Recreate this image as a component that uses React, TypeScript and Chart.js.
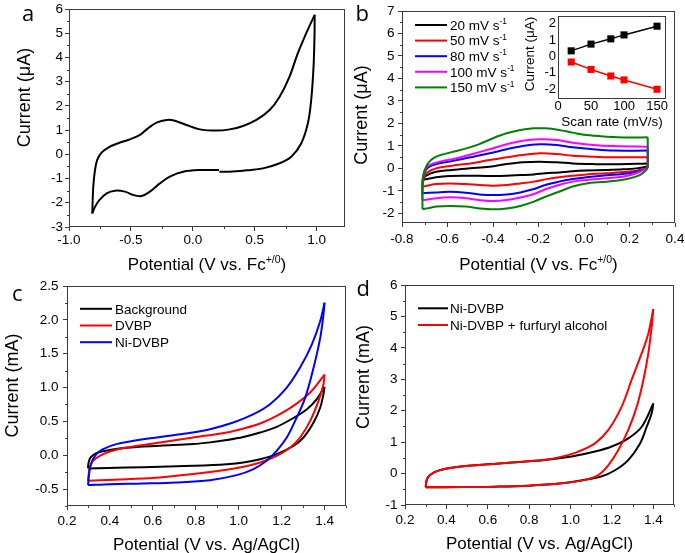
import React, { useEffect, useRef } from 'react';
import { Chart, registerables } from 'chart.js';

Chart.register(...registerables);

type Pt = [number, number];
type Part = { t: string; sup?: boolean };

const FONT = "'Liberation Sans', Arial, Helvetica, sans-serif";
const LETTER_FONT = "'Open Sans', 'Liberation Sans', sans-serif";
const FRAME = '#3a3a3a';

// ---------------- data: panel a (single CV, uA vs V vs Fc+/0) ----------------
const aScanOut: Pt[] = [
  [0.215, -0.72], [0.298, -0.72], [0.433, -0.66], [0.567, -0.58], [0.702, -0.37], [0.796, -0.1],
  [0.877, 0.46], [0.93, 1.28], [0.957, 2.25], [0.976, 3.63], [0.984, 5.0], [0.985, 5.76],
];
const aScanBack: Pt[] = [
  [0.985, 5.76], [0.917, 5.0], [0.849, 4.18], [0.782, 3.21], [0.702, 2.38], [0.621, 1.83],
  [0.514, 1.42], [0.406, 1.17], [0.298, 1.03], [0.191, 0.98], [0.056, 1.03], [-0.051, 1.21],
  [-0.145, 1.39], [-0.212, 1.42], [-0.293, 1.31], [-0.36, 1.08], [-0.427, 0.8], [-0.508, 0.62],
  [-0.602, 0.46], [-0.683, 0.28], [-0.737, 0.07], [-0.772, -0.23], [-0.79, -0.65], [-0.804, -1.34],
  [-0.812, -2.44],
];
const aScanReturn: Pt[] = [
  [-0.812, -2.44], [-0.79, -2.17], [-0.755, -1.89], [-0.696, -1.61], [-0.629, -1.5], [-0.548, -1.54],
  [-0.481, -1.68], [-0.414, -1.72], [-0.347, -1.54], [-0.266, -1.2], [-0.185, -0.92], [-0.078, -0.72],
  [0.056, -0.65], [0.212, -0.65],
];

// ---------------- data: panel b (scan-rate series) ----------------
const bRates = [20, 50, 80, 100, 150];
const bFwd20: Pt[] = [
  [-0.71, -0.52], [-0.708, -0.45], [-0.69, -0.3], [-0.65, -0.15], [-0.58, -0.07], [-0.5, 0.0],
  [-0.415, 0.07], [-0.34, 0.19], [-0.27, 0.27], [-0.195, 0.3], [-0.12, 0.27], [-0.05, 0.22],
  [0.04, 0.19], [0.13, 0.18], [0.28, 0.22],
];
const bRev20: Pt[] = [
  [0.28, 0.22], [0.28, 0.1], [0.274, 0.07], [0.23, 0.0], [0.17, -0.04], [0.1, -0.07], [0.01, -0.1],
  [-0.05, -0.13], [-0.11, -0.18], [-0.17, -0.22], [-0.22, -0.27], [-0.28, -0.3], [-0.34, -0.33],
  [-0.4, -0.34], [-0.46, -0.33], [-0.52, -0.33], [-0.59, -0.34], [-0.65, -0.4], [-0.71, -0.52],
];
const bFwd50: Pt[] = [
  [-0.71, -0.81], [-0.708, -0.55], [-0.69, -0.2], [-0.65, 0.0], [-0.58, 0.12], [-0.5, 0.22],
  [-0.415, 0.37], [-0.34, 0.49], [-0.27, 0.59], [-0.195, 0.67], [-0.12, 0.64], [-0.05, 0.56],
  [0.04, 0.52], [0.13, 0.49], [0.28, 0.5],
];
const bRev50: Pt[] = [
  [0.28, 0.5], [0.28, 0.1], [0.274, 0.0], [0.23, -0.1], [0.17, -0.16], [0.1, -0.22], [0.01, -0.27],
  [-0.05, -0.33], [-0.11, -0.4], [-0.17, -0.49], [-0.22, -0.59], [-0.28, -0.67], [-0.34, -0.74],
  [-0.4, -0.77], [-0.46, -0.74], [-0.52, -0.7], [-0.59, -0.67], [-0.65, -0.7], [-0.71, -0.81],
];
const bFwd80: Pt[] = [
  [-0.71, -1.11], [-0.708, -0.5], [-0.69, 0.0], [-0.65, 0.19], [-0.58, 0.33], [-0.5, 0.49],
  [-0.415, 0.67], [-0.34, 0.85], [-0.27, 1.0], [-0.195, 1.07], [-0.12, 1.04], [-0.05, 0.94],
  [0.04, 0.85], [0.13, 0.79], [0.28, 0.79],
];
const bRev80: Pt[] = [
  [0.28, 0.79], [0.28, 0.1], [0.274, 0.0], [0.23, -0.15], [0.17, -0.25], [0.1, -0.31], [0.01, -0.4],
  [-0.05, -0.47], [-0.11, -0.59], [-0.17, -0.74], [-0.22, -0.92], [-0.28, -1.07], [-0.34, -1.16],
  [-0.4, -1.19], [-0.46, -1.16], [-0.52, -1.08], [-0.59, -1.04], [-0.65, -1.07], [-0.71, -1.11],
];
const bFwd100: Pt[] = [
  [-0.71, -1.41], [-0.708, -0.5], [-0.69, 0.07], [-0.634, 0.3], [-0.56, 0.45], [-0.49, 0.64],
  [-0.415, 0.85], [-0.34, 1.07], [-0.27, 1.23], [-0.195, 1.29], [-0.12, 1.26], [-0.05, 1.14],
  [0.04, 1.04], [0.13, 0.99], [0.28, 0.96],
];
const bRev100: Pt[] = [
  [0.28, 0.96], [0.28, 0.1], [0.274, 0.0], [0.23, -0.22], [0.17, -0.37], [0.1, -0.44], [0.01, -0.52],
  [-0.05, -0.59], [-0.11, -0.74], [-0.17, -0.93], [-0.22, -1.14], [-0.28, -1.3], [-0.34, -1.41],
  [-0.4, -1.45], [-0.46, -1.41], [-0.52, -1.33], [-0.59, -1.29], [-0.65, -1.33], [-0.71, -1.41],
];
const bFwd150: Pt[] = [
  [-0.71, -1.82], [-0.708, -0.4], [-0.686, 0.22], [-0.649, 0.52], [-0.59, 0.7], [-0.517, 0.89],
  [-0.46, 1.08], [-0.4, 1.34], [-0.34, 1.56], [-0.28, 1.71], [-0.22, 1.78], [-0.17, 1.78],
  [-0.11, 1.71], [-0.05, 1.59], [0.01, 1.48], [0.1, 1.41], [0.19, 1.37], [0.28, 1.38],
];
const bRev150: Pt[] = [
  [0.28, 1.38], [0.28, 0.1], [0.274, -0.07], [0.245, -0.3], [0.19, -0.47], [0.1, -0.59], [0.01, -0.67],
  [-0.05, -0.81], [-0.11, -1.04], [-0.17, -1.26], [-0.22, -1.48], [-0.28, -1.67], [-0.34, -1.78],
  [-0.4, -1.82], [-0.46, -1.78], [-0.52, -1.7], [-0.59, -1.67], [-0.65, -1.7], [-0.69, -1.78], [-0.71, -1.82],
];

// ---------------- data: inset of b (peak current vs scan rate) ----------------
const insetRates = [20, 50, 80, 100, 150];
const insetAnodic = [0.34, 0.75, 1.07, 1.31, 1.84];
const insetCathodic = [-0.34, -0.79, -1.19, -1.43, -2.0];

// ---------------- data: panel c ----------------
const cLabels = ['Background', 'DVBP', 'Ni-DVBP'];
const cBackgroundFwd: Pt[] = [
  [0.298, -0.195], [0.3, -0.12], [0.31, -0.03], [0.337, 0.03], [0.368, 0.06], [0.477, 0.11],
  [0.633, 0.14], [0.788, 0.165], [0.866, 0.19], [0.944, 0.225], [1.022, 0.27], [1.1, 0.335],
  [1.177, 0.42], [1.255, 0.55], [1.318, 0.68], [1.364, 0.83], [1.4, 1.01],
];
const cBackgroundRev: Pt[] = [
  [1.4, 1.01], [1.395, 0.9], [1.38, 0.705], [1.349, 0.483], [1.302, 0.262], [1.255, 0.139],
  [1.177, 0.016], [1.1, -0.058], [1.022, -0.107], [0.944, -0.132], [0.788, -0.156], [0.633, -0.171],
  [0.477, -0.181], [0.298, -0.195],
];
const cDvbpFwd: Pt[] = [
  [0.298, -0.378], [0.306, -0.18], [0.321, -0.082], [0.353, -0.009], [0.4, 0.055], [0.477, 0.114],
  [0.633, 0.188], [0.788, 0.262], [0.944, 0.336], [1.022, 0.395], [1.1, 0.469], [1.177, 0.582],
  [1.255, 0.729], [1.333, 0.926], [1.4, 1.19],
];
const cDvbpRev: Pt[] = [
  [1.4, 1.19], [1.395, 1.05], [1.372, 0.803], [1.333, 0.508], [1.286, 0.262], [1.24, 0.114],
  [1.177, -0.009], [1.1, -0.107], [1.022, -0.171], [0.944, -0.215], [0.788, -0.279], [0.633, -0.328],
  [0.477, -0.353], [0.298, -0.378],
];
const cNiFwd: Pt[] = [
  [0.298, -0.441], [0.303, -0.28], [0.314, -0.107], [0.337, 0.016], [0.368, 0.09], [0.43, 0.164],
  [0.555, 0.237], [0.71, 0.301], [0.866, 0.385], [0.975, 0.483], [1.069, 0.606], [1.146, 0.754],
  [1.224, 1.0], [1.286, 1.295], [1.341, 1.639], [1.38, 1.984], [1.4, 2.254],
];
const cNiRev: Pt[] = [
  [1.4, 2.254], [1.395, 2.082], [1.38, 1.738], [1.349, 1.295], [1.31, 0.852], [1.263, 0.508],
  [1.224, 0.262], [1.177, 0.065], [1.13, -0.082], [1.069, -0.205], [0.991, -0.294], [0.866, -0.368],
  [0.71, -0.402], [0.555, -0.417], [0.4, -0.427], [0.298, -0.441],
];

// ---------------- data: panel d ----------------
const dLabels = ['Ni-DVBP', 'Ni-DVBP + furfuryl alcohol'];
const dNiFwd: Pt[] = [
  [0.3, -0.438], [0.305, -0.2], [0.321, -0.045], [0.361, 0.093], [0.442, 0.2], [0.554, 0.273],
  [0.715, 0.35], [0.877, 0.43], [1.005, 0.54], [1.118, 0.7], [1.199, 0.86], [1.279, 1.12],
  [1.344, 1.49], [1.4, 2.235],
];
const dNiRev: Pt[] = [
  [1.4, 2.235], [1.392, 1.917], [1.368, 1.49], [1.336, 0.96], [1.279, 0.43], [1.215, 0.106],
  [1.15, -0.09], [1.07, -0.2], [0.957, -0.31], [0.796, -0.385], [0.635, -0.416], [0.474, -0.427],
  [0.3, -0.438],
];
const dFaFwd: Pt[] = [
  [0.3, -0.438], [0.305, -0.2], [0.321, -0.045], [0.361, 0.093], [0.442, 0.2], [0.554, 0.273],
  [0.715, 0.35], [0.877, 0.44], [0.957, 0.54], [1.038, 0.7], [1.118, 0.96], [1.183, 1.39],
  [1.247, 2.13], [1.295, 2.98], [1.344, 3.83], [1.376, 4.46], [1.4, 5.23],
];
const dFaRev: Pt[] = [
  [1.4, 5.23], [1.392, 4.67], [1.376, 3.83], [1.352, 2.98], [1.32, 2.13], [1.279, 1.39],
  [1.231, 0.75], [1.183, 0.27], [1.134, -0.05], [1.07, -0.2], [0.957, -0.31], [0.796, -0.385],
  [0.635, -0.416], [0.474, -0.427], [0.3, -0.438],
];

// ---------------- layout / style specs ----------------
type Box = { l: number; t: number; r: number; b: number };
interface AxisSpec { min: number; max: number; step: number; minor?: number; dec: number; pad: number }
interface SeriesSpec { label: Part[]; color: string; branches: Pt[][] }
interface PanelSpec {
  area: Box;
  margin: Box;
  x: AxisSpec;
  y: AxisSpec;
  series: SeriesSpec[];
  lineWidth: number;
  tension: number;
  markers?: boolean;
  tickFont: number;
  titleFont: number;
  yTitleFont: number;
  tickLen: number;
  minorLen: number;
  xTitle: Part[];
  xTitleBase: number;
  yTitle: string;
  yTitleCenter: [number, number];
  letter?: { t: string; x: number; y: number };
  legend?: { x: number; y: number; len: number; gap: number; row: number; font: number };
}

const bColors = ['#000000', '#ff0000', '#0000ff', '#ff00ff', '#008000'];
const bBranches: Pt[][][] = [
  [bFwd20, bRev20], [bFwd50, bRev50], [bFwd80, bRev80], [bFwd100, bRev100], [bFwd150, bRev150],
];
const fcTitle: Part[] = [{ t: 'Potential (V vs. Fc' }, { t: '+/0', sup: true }, { t: ')' }];
const agTitle: Part[] = [{ t: 'Potential (V vs. Ag/AgCl)' }];

const MAIN_MARGIN: Box = { l: 72, t: 20, r: 25, b: 56 };
const TICK = 13.5;
const TITLE = 17;
const YTITLE = 18;

const PANELS: PanelSpec[] = [
  {
    area: { l: 69, t: 9, r: 345, b: 227 },
    margin: MAIN_MARGIN,
    x: { min: -1, max: 1.23, step: 0.5, minor: 0.25, dec: 1, pad: 2.5 },
    y: { min: -3, max: 6, step: 1, minor: 0.5, dec: 0, pad: 2 },
    series: [{ label: [{ t: '' }], color: '#000000', branches: [aScanOut, aScanBack, aScanReturn] }],
    lineWidth: 2, tension: 0.35, tickFont: TICK, titleFont: TITLE, yTitleFont: YTITLE, tickLen: 4, minorLen: 2.5,
    xTitle: fcTitle, xTitleBase: 270,
    yTitle: 'Current (\u03bcA)', yTitleCenter: [25.5, 97.5],
    letter: { t: 'a', x: 22, y: 21 },
  },
  {
    area: { l: 402, t: 11, r: 675, b: 223 },
    margin: MAIN_MARGIN,
    x: { min: -0.8, max: 0.4, step: 0.2, minor: 0.1, dec: 1, pad: 6 },
    y: { min: -2.43, max: 7, step: 1, minor: 0.5, dec: 0, pad: 3.5 },
    series: bRates.map((r, i) => ({
      label: [{ t: `${r} mV s` }, { t: '-1', sup: true }],
      color: bColors[i],
      branches: bBranches[i],
    })),
    lineWidth: 2, tension: 0.35, tickFont: TICK, titleFont: TITLE, yTitleFont: YTITLE, tickLen: 4, minorLen: 2.5,
    xTitle: fcTitle, xTitleBase: 270,
    yTitle: 'Current (\u03bcA)', yTitleCenter: [362.5, 115],
    letter: { t: 'b', x: 355.5, y: 20.7 },
    legend: { x: 415, y: 25, len: 32, gap: 3, row: 15.6, font: 13.5 },
  },
  {
    area: { l: 558, t: 16, r: 666, b: 99 },
    margin: { l: 40, t: 12, r: 14, b: 34 },
    x: { min: 0, max: 163.6, step: 50, dec: 0, pad: 1 },
    y: { min: -2.59, max: 2.46, step: 1, dec: 0, pad: 2 },
    series: [
      { label: [{ t: 'anodic' }], color: '#000000', branches: [insetRates.map((r, i) => [r, insetAnodic[i]] as Pt)] },
      { label: [{ t: 'cathodic' }], color: '#ff0000', branches: [insetRates.map((r, i) => [r, insetCathodic[i]] as Pt)] },
    ],
    lineWidth: 1.5, tension: 0, markers: true, tickFont: 13, titleFont: 13.5, yTitleFont: 13.5, tickLen: 0, minorLen: 0,
    xTitle: [{ t: 'Scan rate (mV/s)' }], xTitleBase: 125.7,
    yTitle: 'Current (\u03bcA)', yTitleCenter: [530, 54],
  },
  {
    area: { l: 67, t: 285.5, r: 346, b: 506 },
    margin: MAIN_MARGIN,
    x: { min: 0.2, max: 1.5, step: 0.2, minor: 0.1, dec: 1, pad: 4.5 },
    y: { min: -0.75, max: 2.5, step: 0.5, minor: 0.25, dec: 1, pad: 4.5 },
    series: [
      { label: [{ t: cLabels[0] }], color: '#000000', branches: [cBackgroundFwd, cBackgroundRev] },
      { label: [{ t: cLabels[1] }], color: '#ff0000', branches: [cDvbpFwd, cDvbpRev] },
      { label: [{ t: cLabels[2] }], color: '#0000ff', branches: [cNiFwd, cNiRev] },
    ],
    lineWidth: 2, tension: 0.35, tickFont: TICK, titleFont: TITLE, yTitleFont: YTITLE, tickLen: 4, minorLen: 2.5,
    xTitle: agTitle, xTitleBase: 549,
    yTitle: 'Current (mA)', yTitleCenter: [13.5, 385],
    letter: { t: 'c', x: 12, y: 300 },
    legend: { x: 80, y: 308.3, len: 32, gap: 3, row: 16.7, font: 13.5 },
  },
  {
    area: { l: 405, t: 285, r: 674, b: 505 },
    margin: MAIN_MARGIN,
    x: { min: 0.2, max: 1.5, step: 0.2, minor: 0.1, dec: 1, pad: 4.5 },
    y: { min: -1, max: 6, step: 1, minor: 0.5, dec: 0, pad: 3.5 },
    series: [
      { label: [{ t: dLabels[0] }], color: '#000000', branches: [dNiFwd, dNiRev] },
      { label: [{ t: dLabels[1] }], color: '#ff0000', branches: [dFaFwd, dFaRev] },
    ],
    lineWidth: 2, tension: 0.35, tickFont: TICK, titleFont: TITLE, yTitleFont: YTITLE, tickLen: 4, minorLen: 2.5,
    xTitle: agTitle, xTitleBase: 549,
    yTitle: 'Current (mA)', yTitleCenter: [364, 377],
    letter: { t: 'd', x: 356.5, y: 296 },
    legend: { x: 418, y: 308.3, len: 30, gap: 2, row: 16.7, font: 13.5 },
  },
];

// ---------------- drawing helpers ----------------
function drawParts(ctx: CanvasRenderingContext2D, parts: Part[], x: number, baseY: number, size: number, center: boolean) {
  const supSize = size * 0.62;
  const widths = parts.map((p) => {
    ctx.font = `${p.sup ? supSize : size}px ${FONT}`;
    return ctx.measureText(p.t).width;
  });
  const total = widths.reduce((a, b) => a + b, 0);
  let cx = center ? x - total / 2 : x;
  ctx.textAlign = 'left';
  ctx.textBaseline = 'alphabetic';
  parts.forEach((p, i) => {
    ctx.font = `${p.sup ? supSize : size}px ${FONT}`;
    ctx.fillText(p.t, cx, p.sup ? baseY - size * 0.42 : baseY);
    cx += widths[i];
  });
}

function decorPlugin(spec: PanelSpec, ox: number, oy: number) {
  return {
    id: 'decor',
    afterDraw(chart: any) {
      const ctx: CanvasRenderingContext2D = chart.ctx;
      const { left, top, right, bottom } = chart.chartArea;
      const xs = chart.scales.x;
      const ys = chart.scales.y;
      const L = Math.round(left) + 0.5;
      const R = Math.round(right) - 0.5;
      const T = Math.round(top) + 0.5;
      const B = Math.round(bottom) - 0.5;
      ctx.save();
      ctx.strokeStyle = FRAME;
      ctx.lineWidth = 1;
      ctx.strokeRect(L, T, R - L, B - T);

      // minor ticks
      ctx.beginPath();
      const minorX = spec.x.minor;
      if (minorX) {
        const ratio = Math.round(spec.x.step / minorX);
        for (let i = Math.ceil(spec.x.min / minorX - 1e-9); i * minorX <= spec.x.max + 1e-9; i++) {
          if (i % ratio === 0) continue;
          const px = Math.round(xs.getPixelForValue(i * minorX)) + 0.5;
          ctx.moveTo(px, B);
          ctx.lineTo(px, B + spec.minorLen);
        }
      }
      const minorY = spec.y.minor;
      if (minorY) {
        const ratio = Math.round(spec.y.step / minorY);
        for (let i = Math.ceil(spec.y.min / minorY - 1e-9); i * minorY <= spec.y.max + 1e-9; i++) {
          if (i % ratio === 0) continue;
          const py = Math.round(ys.getPixelForValue(i * minorY)) + 0.5;
          ctx.moveTo(L, py);
          ctx.lineTo(L - spec.minorLen, py);
        }
      }
      ctx.stroke();

      ctx.fillStyle = '#000000';
      // x title
      drawParts(ctx, spec.xTitle, (left + right) / 2, spec.xTitleBase - oy, spec.titleFont, true);
      // y title
      ctx.save();
      ctx.translate(spec.yTitleCenter[0] - ox, spec.yTitleCenter[1] - oy);
      ctx.rotate(-Math.PI / 2);
      ctx.font = `${spec.yTitleFont}px ${FONT}`;
      ctx.textAlign = 'center';
      ctx.textBaseline = 'middle';
      ctx.fillText(spec.yTitle, 0, 0);
      ctx.restore();

      // panel letter
      if (spec.letter) {
        ctx.font = `22px ${LETTER_FONT}`;
        ctx.textAlign = 'left';
        ctx.textBaseline = 'alphabetic';
        ctx.fillText(spec.letter.t, spec.letter.x - ox, spec.letter.y - oy);
      }

      // legend
      const lg = spec.legend;
      if (lg) {
        spec.series.forEach((s, i) => {
          const y = lg.y + i * lg.row - oy;
          ctx.strokeStyle = s.color;
          ctx.lineWidth = 2;
          ctx.beginPath();
          ctx.moveTo(lg.x - ox, y);
          ctx.lineTo(lg.x + lg.len - ox, y);
          ctx.stroke();
          ctx.fillStyle = '#000000';
          drawParts(ctx, s.label, lg.x + lg.len + lg.gap - ox, y + lg.font * 0.358, lg.font, false);
        });
      }
      ctx.restore();
    },
  };
}

function fmt(dec: number) {
  return (v: any) => {
    const n = Number(v);
    return (Math.abs(n) < 1e-9 ? 0 : n).toFixed(dec);
  };
}

function Panel({ spec }: { spec: PanelSpec }) {
  const ref = useRef<HTMLCanvasElement>(null);
  const { area, margin } = spec;
  const left = area.l - margin.l;
  const top = area.t - margin.t;
  const width = area.r - area.l + margin.l + margin.r;
  const height = area.b - area.t + margin.t + margin.b;

  useEffect(() => {
    if (!ref.current) return;
    const datasets: any[] = [];
    spec.series.forEach((s) => {
      s.branches.forEach((br) => {
        datasets.push({
          label: s.label.map((p) => p.t).join(''),
          data: br.map(([x, y]) => ({ x, y })),
          showLine: true,
          borderColor: s.color,
          backgroundColor: s.color,
          borderWidth: spec.lineWidth,
          borderJoinStyle: 'round',
          pointRadius: spec.markers ? 5 : 0,
          pointStyle: 'rect',
          pointBorderWidth: 0,
          pointBackgroundColor: s.color,
          tension: spec.tension,
          fill: false,
        });
      });
    });
    datasets.reverse();

    const tickFont = { family: FONT, size: spec.tickFont, lineHeight: 1 };
    const axis = (a: AxisSpec, isX: boolean) => ({
      type: 'linear' as const,
      min: a.min,
      max: a.max,
      afterFit: (s: any) => {
        if (isX) s.height = margin.b;
        else s.width = margin.l;
      },
      border: { display: false },
      grid: {
        display: spec.tickLen > 0,
        drawOnChartArea: false,
        drawTicks: spec.tickLen > 0,
        tickLength: spec.tickLen,
        color: FRAME,
        lineWidth: 1,
      },
      ticks: {
        stepSize: a.step,
        includeBounds: false,
        autoSkip: false,
        maxRotation: 0,
        minRotation: 0,
        padding: a.pad,
        color: '#000000',
        font: tickFont,
        callback: fmt(a.dec),
      },
      title: { display: false },
    });

    const chart = new Chart(ref.current, {
      type: 'scatter',
      data: { datasets },
      options: {
        animation: false,
        responsive: false,
        maintainAspectRatio: false,
        events: [],
        layout: { padding: { left: 0, top: margin.t, right: margin.r, bottom: 0 } },
        plugins: { legend: { display: false }, tooltip: { enabled: false } },
        scales: { x: axis(spec.x, true), y: axis(spec.y, false) },
      } as any,
      plugins: [decorPlugin(spec, left, top)],
    });
    return () => chart.destroy();
  }, []);

  return (
    <canvas
      ref={ref}
      width={width}
      height={height}
      style={{ position: 'absolute', left, top, width, height }}
    />
  );
}

export default function App() {
  return (
    <div
      style={{
        position: 'fixed',
        left: 0,
        top: 0,
        width: 685,
        height: 553,
        overflow: 'hidden',
        background: '#ffffff',
      }}
    >
      {PANELS.map((p, i) => (
        <Panel key={i} spec={p} />
      ))}
    </div>
  );
}
